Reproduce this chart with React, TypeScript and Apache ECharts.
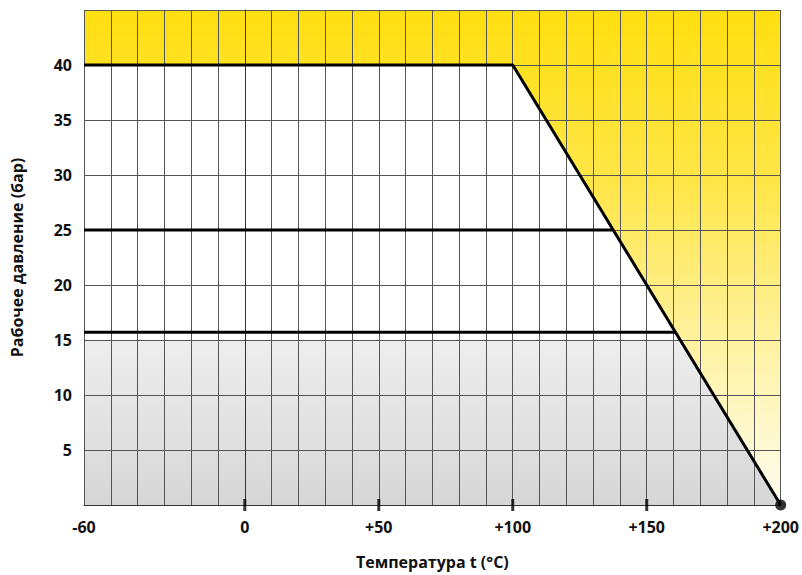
import React, { useEffect, useRef } from "react";
import * as echarts from "echarts";

// Temperature (°C) / pressure (bar) data
const mainT = [-60, 100, 200];
const mainP = [40, 40, 0];
const pn25T = [-60, 137.5];
const pn25P = [25, 25];
const pn16T = [-60, 160.7];
const pn16P = [15.7, 15.7];
const grayT = [-60, 162.5, 200];
const grayP = [15, 15, 0];
const topT = [-60, 200];
const topP = [45, 45];
const endT = [200];
const endP = [0];

const xLabelValues = [-60, 0, 50, 100, 150, 200];
const xTickValues = [0, 50, 100, 150];
const yLabelValues = [5, 10, 15, 20, 25, 30, 35, 40];

const zip = (a: number[], b: number[]) => a.map((v, i) => [v, b[i]]);

const FONT = "'Open Sans', 'DejaVu Sans', sans-serif";

export default function App() {
  const ref = useRef<HTMLDivElement>(null);
  useEffect(() => {
    if (!ref.current) return;
    const chart = echarts.init(ref.current, undefined, { renderer: "svg" });
    const area = (color: any) => ({
      type: "line",
      symbol: "none",
      silent: true,
      z: 1,
      lineStyle: { width: 0 },
      areaStyle: { color, opacity: 1 },
    });
    chart.setOption({
      animation: false,
      backgroundColor: "#ffffff",
      grid: { left: 84, right: 18, top: 10, bottom: 66 },
      xAxis: {
        type: "value",
        min: -60,
        max: 200,
        interval: 10,
        z: 5,
        name: "Температура t (°C)",
        nameLocation: "middle",
        nameGap: 49,
        nameTextStyle: { fontFamily: FONT, fontWeight: "bold", fontSize: 16, color: "#111" },
        axisLine: { lineStyle: { color: "#333", width: 1 } },
        axisTick: { show: false },
        axisLabel: {
          margin: 14,
          fontFamily: FONT,
          fontWeight: "bold",
          fontSize: 16,
          color: "#111",
          showMinLabel: true,
          showMaxLabel: true,
          hideOverlap: false,
          interval: 0,
          formatter: (v: number) =>
            xLabelValues.indexOf(v) >= 0 ? (v > 0 ? "+" + v : String(v)) : "",
        },
        splitLine: { show: true, lineStyle: { color: "#555", width: 1 } },
      },
      yAxis: {
        type: "value",
        min: 0,
        max: 45,
        interval: 5,
        z: 5,
        name: "Рабочее давление (бар)",
        nameLocation: "middle",
        nameRotate: 90,
        nameGap: 59,
        nameTextStyle: { fontFamily: FONT, fontWeight: "bold", fontSize: 16, color: "#111" },
        axisLine: { show: true, lineStyle: { color: "#333", width: 1 } },
        axisTick: { show: false },
        axisLabel: {
          margin: 12,
          fontFamily: FONT,
          fontWeight: "bold",
          fontSize: 16,
          color: "#111",
          formatter: (v: number) => (yLabelValues.indexOf(v) >= 0 ? String(v) : ""),
        },
        splitLine: { show: true, lineStyle: { color: "#555", width: 1 } },
      },
      series: [
        {
          ...area(
            new echarts.graphic.LinearGradient(0, 0, 0, 1, [
              { offset: 0, color: "#FFDF10" },
              { offset: 0.35, color: "#FFE648" },
              { offset: 0.7, color: "#FFF3A8" },
              { offset: 1, color: "#FFFDF0" },
            ])
          ),
          data: zip(topT, topP),
        },
        { ...area("#ffffff"), data: zip(mainT, mainP) },
        {
          ...area(
            new echarts.graphic.LinearGradient(0, 0, 0, 1, [
              { offset: 0, color: "#EEEEEE" },
              { offset: 1, color: "#D6D6D6" },
            ])
          ),
          data: zip(grayT, grayP),
        },
        {
          type: "line",
          symbol: "none",
          z: 10,
          data: zip(mainT, mainP),
          lineStyle: { color: "#000", width: 3 },
        },
        {
          type: "line",
          symbol: "none",
          z: 10,
          data: zip(pn25T, pn25P),
          lineStyle: { color: "#000", width: 3 },
        },
        {
          type: "line",
          symbol: "none",
          z: 10,
          data: zip(pn16T, pn16P),
          lineStyle: { color: "#000", width: 3 },
        },
        {
          type: "scatter",
          z: 11,
          clip: false,
          silent: true,
          symbol: "rect",
          symbolSize: [3, 12],
          itemStyle: { color: "#000" },
          data: xTickValues.map((t) => [t, 0]),
        },
        {
          type: "scatter",
          z: 11,
          clip: false,
          symbolSize: 11,
          itemStyle: { color: "#000" },
          data: zip(endT, endP),
        },
      ],
    });
    return () => chart.dispose();
  }, []);
  return (
    <div
      ref={ref}
      style={{ position: "absolute", left: 0, top: 0, width: 802, height: 575 }}
    />
  );
}
